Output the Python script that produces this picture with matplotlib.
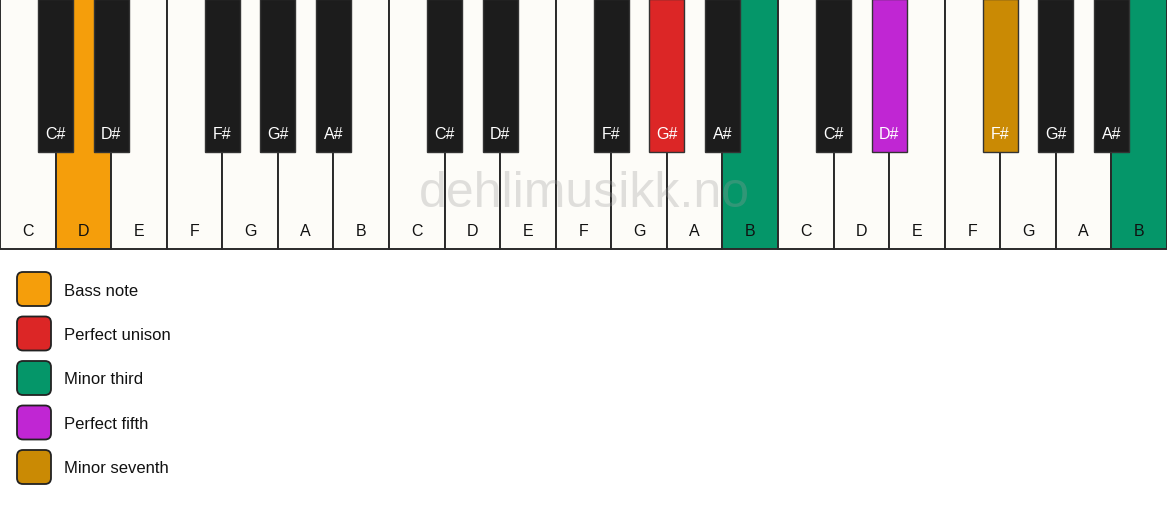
import matplotlib
matplotlib.use("Agg")
import matplotlib.pyplot as plt
from matplotlib.patches import Rectangle, FancyBboxPatch

plt.rcParams['font.family'] = ['Liberation Sans', 'DejaVu Sans']

# ---- data ----
white_notes = ["C", "D", "E", "F", "G", "A", "B"] * 3
black_notes = ["C#", "D#", "F#", "G#", "A#"] * 3
black_after_white = [0, 1, 3, 4, 5]  # white-key index (within octave) that a black key follows

# highlighted keys: index -> colour
white_highlight = {1: "#f59e0b", 13: "#059669", 20: "#059669"}
black_highlight = {8: "#dc2626", 11: "#c026d3", 12: "#ca8a04"}

legend_labels = ["Bass note", "Perfect unison", "Minor third", "Perfect fifth", "Minor seventh"]
legend_colors = ["#f59e0b", "#dc2626", "#059669", "#c026d3", "#ca8a04"]

watermark = "dehlimusikk.no"

# ---- figure ----
W, H = 1167, 506
fig = plt.figure(figsize=(W / 100, H / 100), dpi=100)
ax = fig.add_axes([0, 0, 1, 1])
ax.set_xlim(0, W)
ax.set_ylim(H, 0)
ax.axis("off")

n_white = len(white_notes)
kw = W / n_white
key_h = 250
bk_w = 35
bk_h = 153
edge = "#2a2a2a"
white_fill = "#fdfcf8"
black_fill = "#1c1c1c"

for i, note in enumerate(white_notes):
    fc = white_highlight.get(i, white_fill)
    ax.add_patch(Rectangle((i * kw, 0), kw, key_h, facecolor=fc, edgecolor=edge, lw=1.4, zorder=1))
    ax.text(i * kw + kw / 2, 231.5, note, ha="center", va="center", fontsize=11.5, color="#111111", zorder=5)

for j, note in enumerate(black_notes):
    octave = j // 5
    wi = octave * 7 + black_after_white[j % 5]
    cx = (wi + 1) * kw
    fc = black_highlight.get(j, black_fill)
    ax.add_patch(Rectangle((cx - bk_w / 2, 0), bk_w, bk_h, facecolor=fc, edgecolor="#333333", lw=1.0, zorder=3))
    ax.text(cx, 134, note, ha="center", va="center", fontsize=11.5, color="white", zorder=5)

ax.text(584, 194, watermark, ha="center", va="center", fontsize=36, color="#9a9a9a",
        alpha=0.3, zorder=6)

# legend
for k, (lab, col) in enumerate(zip(legend_labels, legend_colors)):
    cy = 290 + k * 44.5
    ax.add_patch(FancyBboxPatch((17 + 6, cy - 17 + 6), 34 - 12, 34 - 12,
                                boxstyle="round,pad=6", facecolor=col, edgecolor="#222222", lw=1.3, zorder=3))
    ax.text(64, cy + 1, lab, ha="left", va="center", fontsize=12, color="#111111")

fig.savefig("out.png", dpi=100, facecolor="white")
